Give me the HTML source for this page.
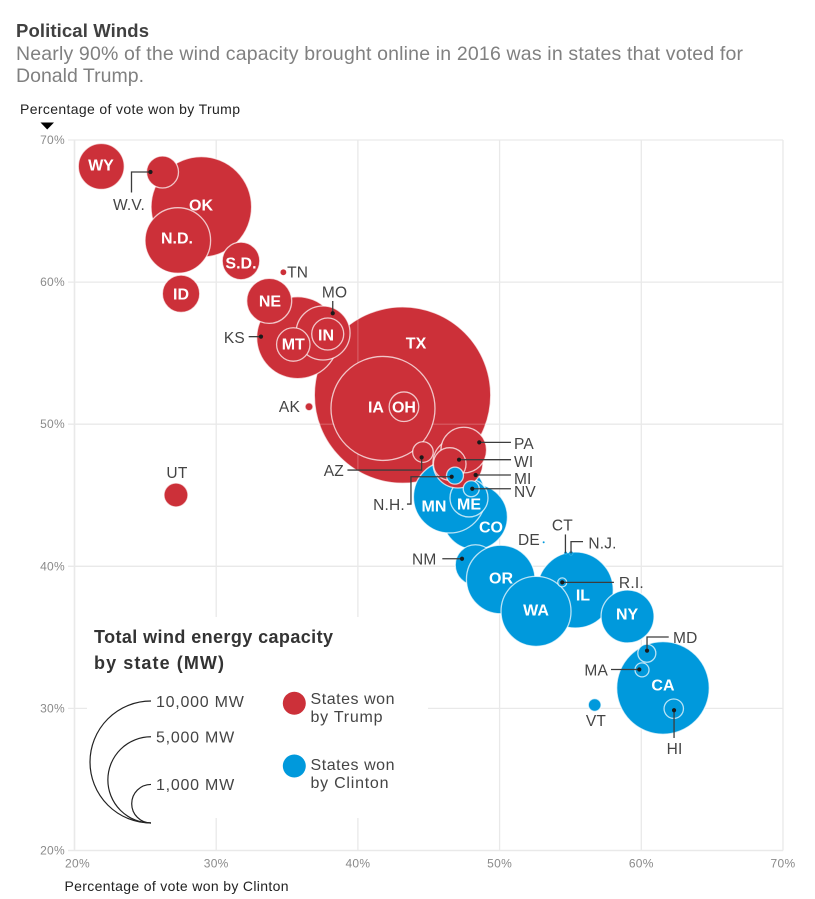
<!DOCTYPE html>
<html lang="en">
<head>
<meta charset="utf-8">
<title>Political Winds</title>
<style>
html,body{margin:0;padding:0;background:#fff;}
svg{display:block;font-family:"Liberation Sans",sans-serif;}
</style>
</head>
<body>
<svg id="chart" xmlns="http://www.w3.org/2000/svg" width="815" height="899" viewBox="0 0 815 899">
  <rect width="815" height="899" fill="#fff"/>
  <text x="16" y="37" font-size="18.5" font-weight="bold" fill="#404040" textLength="133" lengthAdjust="spacing">Political Winds</text>
  <text x="16" y="60" font-size="19.5" fill="#808080" textLength="727" lengthAdjust="spacing">Nearly 90% of the wind capacity brought online in 2016 was in states that voted for</text>
  <text x="16" y="82" font-size="19.5" fill="#808080" textLength="128" lengthAdjust="spacing">Donald Trump.</text>
  <text x="20" y="114" font-size="14" fill="#222" textLength="220" lengthAdjust="spacing">Percentage of vote won by Trump</text>
  <polygon points="40.5,122.5 54,122.5 47.2,129.5" fill="#000"/>
  <text x="64.5" y="891" font-size="14" fill="#222" textLength="224" lengthAdjust="spacing">Percentage of vote won by Clinton</text>
  <defs><clipPath id="tx-clip"><circle id="tx-clip-circle"/></clipPath></defs>
  <g id="grid"></g>
  <g id="bubbles"></g>
  <g id="leaders"></g>
  <g id="labels"></g>
  <g id="legend">
    <rect x="87" y="617" width="341" height="201" fill="#fff"/>
    <text x="94" y="643" font-size="18" font-weight="bold" fill="#333" textLength="239" lengthAdjust="spacing">Total wind energy capacity</text>
    <text x="94" y="669" font-size="18" font-weight="bold" fill="#333" textLength="130" lengthAdjust="spacing">by state (MW)</text>
    <circle cx="294.3" cy="703.3" r="11.5" fill="#cc3039"/>
    <text x="310.5" y="704" font-size="16" fill="#444" textLength="84" lengthAdjust="spacing">States won</text>
    <text x="310.5" y="722" font-size="16" fill="#444" textLength="72" lengthAdjust="spacing">by Trump</text>
    <circle cx="294.3" cy="766" r="11.5" fill="#0099dc"/>
    <text x="310.5" y="770" font-size="16" fill="#444" textLength="84" lengthAdjust="spacing">States won</text>
    <text x="310.5" y="788" font-size="16" fill="#444" textLength="78" lengthAdjust="spacing">by Clinton</text>
  </g>
</svg>
<script>
// Chart data. Array order is the drawing order.
const states = ["TX","WY","OK","ND","W.V.","S.D.","ID","TN","KS","MO","IN","MT","NE","AK","UT","IA","OH","AZ","CO","MN","ME","MI","PA","WI","N.H.","NV","NM","OR","IL","WA","R.I.","CT","N.J.","DE","NY","CA","MD","MA","HI","VT"];
const clintonVote = [43.15,21.89,28.95,27.29,26.21,31.75,27.52,34.74,35.75,37.54,37.87,35.44,33.74,36.55,27.16,41.77,43.25,44.59,48.26,46.46,47.84,47.06,47.47,46.48,46.85,48.0,48.3,50.08,55.34,52.57,54.42,54.66,55.04,53.11,59.03,61.53,60.39,60.05,62.29,56.71];
const trumpVote = [52.05,68.14,65.29,62.93,67.75,61.49,59.18,60.69,56.09,56.42,56.35,55.61,58.68,51.23,45.02,51.11,51.23,48.04,43.47,44.88,44.81,47.27,48.18,47.2,46.38,45.46,40.09,39.07,38.33,36.83,38.87,40.94,40.92,41.69,36.47,31.44,33.88,32.71,29.98,30.24];
const capacityMW = [20906,1422,6800,2891,688,950,940,24,4517,1959,688,750,1361,43,387,7267,589,285,2838,3483,970,1680,1397,714,194,172,1107,3162,3881,3292,54,6,11,3,1887,5761,218,132,253,110];
const winner = ["T","T","T","T","T","T","T","T","T","T","T","T","T","T","T","T","T","T","C","C","C","T","T","T","C","C","C","C","C","C","C","C","C","C","C","C","C","C","C","C"];

const xTicks = [20,30,40,50,60,70];
const yTicks = [20,30,40,50,60,70];
const tickSuffix = "%";
const legendSizes = [10000,5000,1000];
const legendLabels = ["10,000 MW","5,000 MW","1,000 MW"];

// Axis functions
function xScale(v){ return 74.5 + (v - 20) * 14.17; }
function yScale(v){ return 140 + (70 - v) * 14.21; }
function rScale(mw){ return 0.61 * Math.sqrt(mw); }

// Annotation layout: pixel offsets from each bubble's centre.
const innerLabelOffset = {
  "WY":[-0.3,-1.5],"OK":[-0.3,-2],"ND":[-0.8,-2.5],"S.D.":[0,2],"ID":[0,0.3],"NE":[0.8,0.2],
  "MT":[0,-0.5],"IN":[-1.7,1],"TX":[13.5,-52],"IA":[-7,-1.5],"OH":[0,0.3],"MN":[-15.5,9],
  "ME":[0,6],"CO":[16,10],"OR":[0.3,-1.5],"WA":[0,-1.3],"IL":[7.7,5],"NY":[-0.5,-2.5],"CA":[0,-3]
};
const innerLabelText = {"ND":"N.D."};
const callouts = {
  "W.V.":{text:[-33.5,38],anchor:"middle",line:[[-12,0],[-31,0],[-31,20.5]],dot:true},
  "MO":{text:[11.5,-35.5],anchor:"middle",line:[[9.7,-19.7],[9.7,-32]],dot:true},
  "KS":{text:[-52.7,5.3],anchor:"end",line:[[-36.7,-1],[-49,-1]],dot:true},
  "TN":{text:[3.7,5.2],anchor:"start"},
  "AK":{text:[-9,5.3],anchor:"end"},
  "UT":{text:[1,-17],anchor:"middle"},
  "AZ":{text:[-79,24],anchor:"end",line:[[-1.3,5.3],[-1.3,18],[-75.5,18]],dot:true},
  "N.H.":{text:[-50,34.4],anchor:"end",line:[[-3.3,1.1],[-44,1.1],[-44,28.4],[-48,28.4]],dot:true},
  "PA":{text:[50.2,-1],anchor:"start",line:[[15.5,-7.7],[47.2,-7.7]],dot:true},
  "WI":{text:[64.3,3],anchor:"start",line:[[9.3,-4.3],[61.3,-4.3]],dot:true},
  "MI":{text:[56,21],anchor:"start",line:[[17.7,12],[53,12]],dot:true},
  "NV":{text:[42.7,8.3],anchor:"start",line:[[1,0],[39.7,0]],dot:true},
  "DE":{text:[-3.7,2.7],anchor:"end"},
  "CT":{text:[-3.2,-22.3],anchor:"middle",line:[[-0.2,0],[-0.2,-18.5]],dot:false},
  "N.J.":{text:[17.3,-4.6],anchor:"start",line:[[0,0],[0,-11.6],[12,-11.6]],dot:false},
  "R.I.":{text:[56.7,5.7],anchor:"start",line:[[0,0],[51.7,0]],dot:true},
  "NM":{text:[-39,-0.3],anchor:"end",line:[[-13.5,-6.3],[-33.2,-6.3]],dot:true},
  "MD":{text:[26.2,-10.3],anchor:"start",line:[[0.2,-2.6],[0.2,-16.3],[21.9,-16.3]],dot:true},
  "MA":{text:[-34,5.8],anchor:"end",line:[[-2.7,-0.4],[-31,-0.4]],dot:true},
  "HI":{text:[0.8,45.3],anchor:"middle",line:[[0.3,1.6],[0.3,29.3]],dot:true},
  "VT":{text:[1.3,21],anchor:"middle"}
};

const NS = "http://www.w3.org/2000/svg";
function make(tag, attrs, parent){
  const el = document.createElementNS(NS, tag);
  for (const k in attrs) el.setAttribute(k, attrs[k]);
  parent.appendChild(el);
  return el;
}
function slug(s){ return s.toLowerCase().replace(/[^a-z0-9]/g, ""); }

const gridG = document.getElementById("grid");
const bubblesG = document.getElementById("bubbles");
const leadersG = document.getElementById("leaders");
const labelsG = document.getElementById("labels");
const legendG = document.getElementById("legend");

// Grid and ticks
xTicks.forEach(function(t){
  const heavy = t === 20;
  const gl = make("line", {x1:xScale(t), x2:xScale(t), y1:yScale(70), y2:yScale(20), stroke:"#e9e9e9", "stroke-width":heavy?1.6:1.3}, gridG);
  
  
  const tl = make("text", {x:t === 20 ? xScale(t) + 3 : xScale(t), y:867.5, "font-size":12, fill:"#8a8a8a", "text-anchor":"middle", "letter-spacing":"0.3"}, gridG);
  tl.textContent = t + tickSuffix;
  
  
});
yTicks.forEach(function(t){
  const heavy = t === 20;
  const gl = make("line", {x1:68, x2:xScale(70), y1:yScale(t), y2:yScale(t), stroke:"#e9e9e9", "stroke-width":heavy?1.6:1.3}, gridG);
  
  
  const tl = make("text", {x:65, y:yScale(t) + 4, "font-size":12, fill:"#8a8a8a", "text-anchor":"end", "letter-spacing":"0.3"}, gridG);
  tl.textContent = t + tickSuffix;
  
  
});

// Bubbles
states.forEach(function(s, i){
  const c = make("circle", {
    cx:xScale(clintonVote[i]), cy:yScale(trumpVote[i]), r:rScale(capacityMW[i]),
    fill:winner[i] === "T" ? "#cc3039" : "#0099dc",
    stroke:"#fff", "stroke-opacity":capacityMW[i] < 30 ? 0.3 : 0.72, "stroke-width":capacityMW[i] < 30 ? 0.5 : 1.3
  }, bubblesG);
  
  
  if (s === "TX") {
    // The largest bubble lets the grid show through faintly.
    const clipC = document.getElementById("tx-clip-circle");
    clipC.setAttribute("cx", xScale(clintonVote[i]));
    clipC.setAttribute("cy", yScale(trumpVote[i]));
    clipC.setAttribute("r", rScale(capacityMW[i]));
    const sheen = make("g", {"clip-path":"url(#tx-clip)", stroke:"#fff", "stroke-opacity":0.22, "stroke-width":1.2}, bubblesG);
    
    
    xTicks.forEach(function(t){ make("line", {x1:xScale(t), x2:xScale(t), y1:yScale(70), y2:yScale(20)}, sheen); });
    yTicks.forEach(function(t){ make("line", {x1:xScale(20), x2:xScale(70), y1:yScale(t), y2:yScale(t)}, sheen); });
  }
});

// Labels and leaders
states.forEach(function(s, i){
  const cx = xScale(clintonVote[i]);
  const cy = yScale(trumpVote[i]);
  if (innerLabelOffset[s]) {
    const o = innerLabelOffset[s];
    const t = make("text", {x:cx + o[0], y:cy + o[1] + 5.6, "font-size":16, "font-weight":"bold", fill:"#fff", "text-anchor":"middle"}, labelsG);
    t.textContent = innerLabelText[s] || s;
    
    
  }
  const co = callouts[s];
  if (co) {
    if (co.line) {
      const pts = co.line.map(function(p){ return (cx + p[0]) + "," + (cy + p[1]); }).join(" ");
      const pl = make("polyline", {points:pts, fill:"none", stroke:"#3c3c3c", "stroke-width":1.3}, leadersG);
      
      
      if (co.dot) {
        const d = make("circle", {cx:cx + co.line[0][0], cy:cy + co.line[0][1], r:2.1, fill:"#1a1a1a"}, leadersG);
        
        
      }
    }
    const t = make("text", {x:cx + co.text[0], y:cy + co.text[1], "font-size":15.5, fill:"#444", "text-anchor":co.anchor, "letter-spacing":"0.2"}, labelsG);
    t.textContent = s;
    
    
  }
});

// Legend size arcs
const legendBaseX = 151;
const legendBaseY = 823;
legendSizes.forEach(function(mw, i){
  const r = rScale(mw);
  const arc = make("path", {
    d:"M" + legendBaseX + " " + legendBaseY + " A" + r + " " + r + " 0 0 1 " + legendBaseX + " " + (legendBaseY - 2 * r),
    fill:"none", stroke:"#222", "stroke-width":1.2
  }, legendG);
  
  
  const t = make("text", {x:156, y:legendBaseY - 2 * r + 5.8, "font-size":16, fill:"#444", "letter-spacing":"0.75"}, legendG);
  t.textContent = legendLabels[i];
  
  
});
</script>
</body>
</html>
